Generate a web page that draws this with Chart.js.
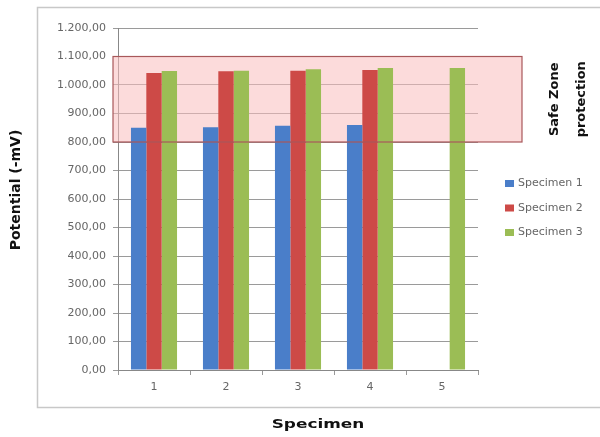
<!DOCTYPE html>
<html>
<head>
<meta charset="utf-8">
<script src="https://cdn.jsdelivr.net/npm/chart.js@4/dist/chart.umd.min.js"></script>
<style>
  html, body { margin: 0; padding: 0; background: #fff; }
  #wrap { width: 600px; height: 437px; position: relative; }
</style>
</head>
<body>
<div id="wrap"><canvas id="chart" width="600" height="437"></canvas></div>
<script>
// data
const specimens = ['1', '2', '3', '4', '5'];
const specimen1 = [850, 852, 857, 860, null];
const specimen2 = [1042, 1048, 1050, 1053, null];
const specimen3 = [1049, 1050, 1055, 1060, 1060];
const seriesNames = ['Specimen 1', 'Specimen 2', 'Specimen 3'];
const seriesColors = ['#4a7ec9', '#cd4a47', '#9bbd55'];
const safeZone = [800, 1100];
const safeZoneText = ['Safe Zone', 'protection'];
const yTitle = 'Potential (-mV)';
const xTitle = 'Specimen';

const fmt = v => {
    let s = v.toFixed(2).replace('.', ',');
    let [i, d] = s.split(',');
    i = i.replace(/\B(?=(\d{3})+(?!\d))/g, '.');
    return i + ',' + d;
};

const decor = {
    id: 'decor',
    beforeDraw(chart) {
        const c = chart.ctx;
        c.save();
        c.strokeStyle = '#c8c8c8';
        c.lineWidth = 1.5;
        c.strokeRect(37.5, 7.5, 600, 400);
        c.restore();
    },
    beforeDatasetsDraw(chart) {
        const c = chart.ctx, a = chart.chartArea, y = chart.scales.y;
        const top = y.getPixelForValue(safeZone[1]), bot = y.getPixelForValue(safeZone[0]);
        c.save();
        c.fillStyle = 'rgba(250, 190, 190, 0.55)';
        c.fillRect(a.left - 5, top, a.right + 44 - (a.left - 5), bot - top);
        c.restore();
    },
    afterDatasetsDraw(chart) {
        const c = chart.ctx, a = chart.chartArea, y = chart.scales.y;
        const top = y.getPixelForValue(safeZone[1]), bot = y.getPixelForValue(safeZone[0]);
        c.save();
        c.strokeStyle = '#a8585a';
        c.lineWidth = 1.2;
        c.strokeRect(a.left - 5, top, a.right + 44 - (a.left - 5), bot - top);

        // safe zone text
        c.fillStyle = '#111';
        c.font = 'bold 13px "DejaVu Sans"';
        c.textAlign = 'center';
        c.textBaseline = 'middle';
        [555, 582].forEach((x, i) => {
            c.save();
            c.translate(x, (top + bot) / 2);
            c.rotate(-Math.PI / 2);
            c.fillText(safeZoneText[i], 0, 0);
            c.restore();
        });

        // axis titles
        c.save();
        c.translate(16, 190);
        c.rotate(-Math.PI / 2);
        c.font = 'bold 14px "DejaVu Sans"';
        c.fillText(yTitle, 0, 0);
        c.restore();
        c.save();
        c.translate(318, 425);
        c.scale(1.3, 1);
        c.font = 'bold 13px "DejaVu Sans"';
        c.fillText(xTitle, 0, 0);
        c.restore();

        // legend
        c.font = '11px "DejaVu Sans"';
        c.textAlign = 'left';
        seriesNames.forEach((n, i) => {
            const ly = 183 + i * 24.5;
            c.fillStyle = seriesColors[i];
            c.fillRect(505, ly - 3, 9, 7);
            c.fillStyle = '#666';
            c.fillText(n, 518, ly + 0.5);
        });
        c.restore();
    }
};

const ctx = document.getElementById('chart').getContext('2d');
new Chart(ctx, {
    type: 'bar',
    data: {
        labels: specimens,
        datasets: [specimen1, specimen2, specimen3].map((d, i) => ({
            label: seriesNames[i],
            data: d,
            backgroundColor: seriesColors[i],
            borderWidth: 0,
            categoryPercentage: 0.64,
            barPercentage: 1.0
        }))
    },
    options: {
        responsive: false,
        animation: false,
        layout: { padding: { top: 28, right: 122, left: 0, bottom: 0 } },
        plugins: { legend: { display: false }, tooltip: { enabled: false } },
        scales: {
            x: {
                afterFit: s => { s.height = 67; },
                grid: { offset: true, drawOnChartArea: false, tickLength: 5, color: '#999' },
                border: { color: '#888' },
                ticks: { color: '#666', font: { family: 'DejaVu Sans', size: 11 }, padding: 6 }
            },
            y: {
                min: 0, max: 1200,
                afterFit: s => { s.width = 118; },
                grid: { color: '#9a9a9a', tickLength: 5 },
                border: { color: '#888' },
                ticks: {
                    stepSize: 100, color: '#666', padding: 7,
                    font: { family: 'DejaVu Sans', size: 11 },
                    callback: v => fmt(v)
                }
            }
        }
    },
    plugins: [decor]
});
</script>
</body>
</html>
